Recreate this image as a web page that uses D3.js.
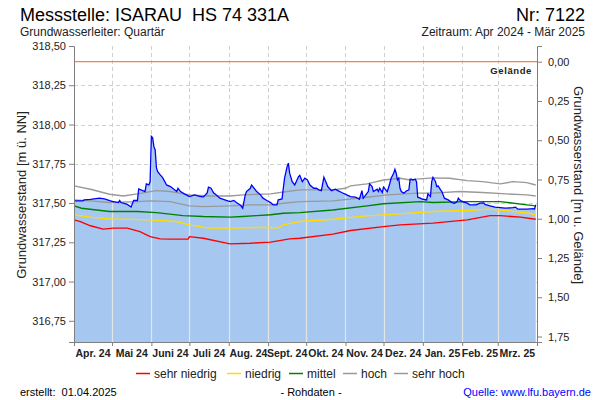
<!DOCTYPE html>
<html><head><meta charset="utf-8">
<script src="https://cdn.jsdelivr.net/npm/d3@7"></script>
<style>
html,body{margin:0;padding:0;background:#fff;}
svg{display:block;font-family:"Liberation Sans",Arial,sans-serif;}
</style></head>
<body><svg id="c" width="600" height="400"></svg>
<script>
// ---- data ----
const monthLabels = ["Apr. 24","Mai 24","Juni 24","Juli 24","Aug. 24","Sept. 24","Okt. 24","Nov. 24","Dez. 24","Jan. 25","Feb. 25","Mrz. 25"];
const leftTicks = [318.50,318.25,318.00,317.75,317.50,317.25,317.00,316.75];
const rightTicks = [0.00,0.25,0.50,0.75,1.00,1.25,1.50,1.75];
const gelaende = 318.40;
const measured = [
["2024-04-01",317.514],["2024-04-08",317.514],["2024-04-09",317.520],["2024-04-14",317.523],["2024-04-21",317.531],["2024-04-25",317.526],
["2024-05-01",317.511],["2024-05-06",317.503],["2024-05-07",317.516],["2024-05-08",317.503],["2024-05-13",317.491],["2024-05-16",317.474],
["2024-05-18",317.516],["2024-05-21",317.516],["2024-05-22",317.590],["2024-05-27",317.573],["2024-05-28",317.622],["2024-05-30",317.615],
["2024-05-31",317.635],["2024-06-01",317.924],["2024-06-02",317.915],["2024-06-03",317.859],["2024-06-04",317.838],["2024-06-05",317.724],
["2024-06-06",317.700],["2024-06-08",317.679],["2024-06-10",317.660],["2024-06-13",317.615],["2024-06-16",317.605],["2024-06-21",317.573],
["2024-06-22",317.594],["2024-06-24",317.573],["2024-06-27",317.558],["2024-07-01",317.541],["2024-07-05",317.552],["2024-07-09",317.542],
["2024-07-12",317.539],["2024-07-15",317.565],["2024-07-16",317.601],["2024-07-18",317.594],["2024-07-20",317.565],["2024-07-22",317.552],
["2024-07-25",317.531],["2024-07-30",317.517],["2024-08-02",317.509],["2024-08-05",317.517],["2024-08-07",317.503],["2024-08-10",317.488],
["2024-08-12",317.467],["2024-08-14",317.552],["2024-08-15",317.573],["2024-08-18",317.594],["2024-08-19",317.615],["2024-08-20",317.605],
["2024-08-23",317.573],["2024-08-26",317.552],["2024-08-28",317.531],["2024-08-31",317.516],["2024-09-03",317.503],["2024-09-05",317.488],
["2024-09-08",317.488],["2024-09-09",317.520],["2024-09-12",317.526],["2024-09-13",317.594],["2024-09-14",317.658],["2024-09-16",317.732],
["2024-09-17",317.754],["2024-09-18",317.690],["2024-09-20",317.636],["2024-09-22",317.615],["2024-09-25",317.668],["2024-09-26",317.676],
["2024-09-28",317.636],["2024-09-30",317.658],["2024-10-02",317.647],["2024-10-04",317.615],["2024-10-07",317.594],["2024-10-09",317.594],
["2024-10-11",317.584],["2024-10-13",317.579],["2024-10-15",317.664],["2024-10-17",317.626],["2024-10-18",317.605],["2024-10-21",317.579],
["2024-10-24",317.588],["2024-10-26",317.579],["2024-10-29",317.567],["2024-11-02",317.552],["2024-11-05",317.541],["2024-11-09",317.537],
["2024-11-12",317.524],["2024-11-14",317.579],["2024-11-15",317.531],["2024-11-16",317.541],["2024-11-19",317.573],["2024-11-20",317.622],
["2024-11-22",317.605],["2024-11-23",317.573],["2024-11-26",317.588],["2024-11-27",317.573],["2024-11-28",317.594],["2024-11-30",317.567],
["2024-12-01",317.601],["2024-12-04",317.573],["2024-12-06",317.626],["2024-12-07",317.658],["2024-12-09",317.690],["2024-12-10",317.715],
["2024-12-11",317.690],["2024-12-12",317.647],["2024-12-13",317.658],["2024-12-14",317.594],["2024-12-15",317.573],["2024-12-17",317.563],
["2024-12-19",317.577],["2024-12-21",317.584],["2024-12-22",317.652],["2024-12-23",317.652],["2024-12-24",317.647],["2024-12-26",317.652],
["2024-12-27",317.636],["2024-12-28",317.537],["2024-12-30",317.531],["2025-01-01",317.524],["2025-01-04",317.520],["2025-01-05",317.558],
["2025-01-07",317.541],["2025-01-08",317.636],["2025-01-09",317.664],["2025-01-11",317.636],["2025-01-12",317.605],["2025-01-13",317.609],
["2025-01-15",317.584],["2025-01-16",317.573],["2025-01-18",317.531],["2025-01-21",317.520],["2025-01-24",317.503],["2025-01-26",317.499],
["2025-01-28",317.509],["2025-01-29",317.531],["2025-01-30",317.520],["2025-02-01",317.509],["2025-02-05",317.499],["2025-02-07",317.488],
["2025-02-12",317.488],["2025-02-15",317.499],["2025-02-18",317.501],["2025-02-19",317.491],["2025-02-23",317.482],["2025-02-27",317.474],
["2025-03-07",317.467],["2025-03-13",317.471],["2025-03-15",317.474],["2025-03-17",317.461],["2025-03-24",317.461],["2025-03-29",317.464],
["2025-03-30",317.461],["2025-03-31",317.488]
];
const sehrHoch = [
["2024-04-01",317.609],["2024-04-14",317.588],["2024-04-29",317.556],["2024-05-10",317.545],["2024-05-21",317.558],["2024-06-05",317.579],
["2024-06-16",317.573],["2024-07-01",317.552],["2024-07-17",317.545],["2024-08-02",317.545],["2024-08-12",317.552],["2024-09-03",317.558],
["2024-09-16",317.573],["2024-09-26",317.584],["2024-10-22",317.584],["2024-11-01",317.594],["2024-11-05",317.609],["2024-11-18",317.622],
["2024-12-01",317.647],["2024-12-14",317.658],["2024-12-22",317.647],["2024-12-27",317.652],["2025-01-09",317.660],["2025-01-22",317.658],
["2025-02-05",317.643],["2025-02-17",317.636],["2025-03-03",317.622],["2025-03-13",317.636],["2025-03-24",317.630],["2025-03-31",317.615]
];
const hoch = [
["2024-04-01",317.520],["2024-04-14",317.514],["2024-04-29",317.503],["2024-05-21",317.509],["2024-05-31",317.514],["2024-06-16",317.509],
["2024-07-01",317.482],["2024-07-12",317.477],["2024-08-02",317.482],["2024-08-18",317.488],["2024-09-03",317.488],["2024-09-13",317.499],
["2024-09-26",317.509],["2024-10-22",317.514],["2024-11-18",317.537],["2024-12-04",317.552],["2024-12-27",317.563],["2025-01-09",317.563],
["2025-01-30",317.573],["2025-02-17",317.567],["2025-03-08",317.558],["2025-03-24",317.552],["2025-03-31",317.545]
];
const mittel = [
["2024-04-01",317.482],["2024-04-07",317.467],["2024-04-29",317.446],["2024-05-21",317.446],["2024-06-05",317.439],["2024-06-26",317.420],
["2024-07-12",317.414],["2024-08-02",317.410],["2024-08-12",317.414],["2024-08-23",317.420],["2024-09-03",317.425],["2024-09-13",317.435],
["2024-09-26",317.439],["2024-10-22",317.456],["2024-11-18",317.482],["2024-12-01",317.495],["2024-12-30",317.509],["2025-01-09",317.503],
["2025-02-05",317.509],["2025-03-03",317.509],["2025-03-24",317.488],["2025-03-31",317.482]
];
const niedrig = [
["2024-04-01",317.425],["2024-04-14",317.410],["2024-04-29",317.399],["2024-05-31",317.393],["2024-06-21",317.382],["2024-07-01",317.361],
["2024-07-17",317.340],["2024-08-02",317.340],["2024-08-23",317.344],["2024-09-03",317.344],["2024-09-08",317.340],["2024-09-13",317.361],
["2024-09-26",317.382],["2024-10-22",317.397],["2024-11-18",317.418],["2024-12-14",317.431],["2025-01-09",317.446],["2025-02-05",317.452],
["2025-02-21",317.461],["2025-03-08",317.452],["2025-03-26",317.435],["2025-03-31",317.425]
];
const sehrNiedrig = [
["2024-04-01",317.393],["2024-04-06",317.382],["2024-04-14",317.355],["2024-04-24",317.334],["2024-05-02",317.340],["2024-05-13",317.340],
["2024-05-23",317.318],["2024-05-31",317.286],["2024-06-08",317.272],["2024-06-16",317.270],["2024-06-30",317.270],["2024-07-01",317.286],
["2024-07-12",317.276],["2024-08-02",317.240],["2024-08-18",317.244],["2024-09-03",317.251],["2024-09-18",317.272],["2024-09-26",317.276],
["2024-10-22",317.302],["2024-11-05",317.325],["2024-12-01",317.350],["2024-12-14",317.361],["2025-01-09",317.372],["2025-02-05",317.393],
["2025-02-23",317.420],["2025-03-03",317.420],["2025-03-19",317.410],["2025-03-31",317.397]
];

// ---- drawing ----
const svg = d3.select("#c");
const parse = d3.timeParse("%Y-%m-%d");
const L = 74, R = 537, T = 46, B = 342;
const x = d3.scaleTime().domain([parse("2024-04-01"), parse("2025-04-01")]).range([L, R]);
const yBottom = 316.615, yTop = 318.50;
const y = d3.scaleLinear().domain([yBottom, yTop]).range([B, T]);
const yR = d3.scaleLinear().domain([gelaende - yBottom, gelaende - yTop]).range([B, T]);
const loc = d3.formatLocale({decimal: ",", thousands: ".", grouping: [3], currency: ["", "€"]});
const f2 = loc.format(".2f");
const months = d3.timeMonth.range(parse("2024-04-01"), parse("2025-04-02"));

// grid
const grid = svg.append("g");
grid.selectAll("line.h").data(leftTicks.slice(1)).join("line")
  .attr("x1", L).attr("x2", R).attr("y1", d => Math.round(y(d)) + 0.5).attr("y2", d => Math.round(y(d)) + 0.5)
  .attr("stroke", "#d0d0d0").attr("stroke-dasharray", "4,3");
grid.selectAll("line.v").data(months.slice(1, 12)).join("line")
  .attr("x1", d => Math.round(x(d)) + 0.5).attr("x2", d => Math.round(x(d)) + 0.5).attr("y1", T).attr("y2", B)
  .attr("stroke", "#d0d0d0").attr("stroke-dasharray", "4,3");

const pts = arr => arr.map(d => [parse(d[0]), d[1]]);
const mData = pts(measured);
const area = d3.area().x(d => x(d[0])).y0(B).y1(d => y(d[1]));
const line = d3.line().x(d => x(d[0])).y(d => y(d[1]));

svg.append("defs").append("clipPath").attr("id", "fillclip").append("path").attr("d", area(mData));
svg.append("path").attr("d", area(mData)).attr("fill", "#a6c8f0");
svg.append("g").attr("clip-path", "url(#fillclip)").selectAll("line").data(months.slice(1, 12)).join("line")
  .attr("x1", d => Math.round(x(d)) + 0.5).attr("x2", d => Math.round(x(d)) + 0.5).attr("y1", T).attr("y2", B)
  .attr("stroke", "#e4e4e4").attr("stroke-width", 1.2);

const series = [
  {name: "sehr niedrig", data: sehrNiedrig, color: "#ff0000"},
  {name: "niedrig", data: niedrig, color: "#ffdc00"},
  {name: "mittel", data: mittel, color: "#008000"},
  {name: "hoch", data: hoch, color: "#999999"},
  {name: "sehr hoch", data: sehrHoch, color: "#999999"}
];
series.forEach(s => {
  svg.append("path").attr("d", line(pts(s.data))).attr("fill", "none").attr("stroke", s.color).attr("stroke-width", 1.4);
});
svg.append("path").attr("d", line(mData)).attr("fill", "none").attr("stroke", "#0000ff").attr("stroke-width", 1.3);

// Gelände line
svg.append("line").attr("x1", L).attr("x2", R).attr("y1", y(gelaende)).attr("y2", y(gelaende))
  .attr("stroke", "#ff7f3f").attr("stroke-width", 1.2);
svg.append("text").attr("x", R - 5).attr("y", y(gelaende) + 12).attr("text-anchor", "end")
  .attr("font-size", 9.5).attr("font-weight", "bold").attr("letter-spacing", "0.6").attr("fill", "#222").text("Gelände");

// axes
const axL = svg.append("g").attr("transform", `translate(${L},0)`)
  .call(d3.axisLeft(y).tickValues(leftTicks).tickFormat(f2).tickSize(5).tickPadding(3));
const axR = svg.append("g").attr("transform", `translate(${R},0)`)
  .call(d3.axisRight(yR).tickValues(rightTicks).tickFormat(f2).tickSize(5).tickPadding(6));
const axB = svg.append("g").attr("transform", `translate(0,${B})`)
  .call(d3.axisBottom(x).tickValues(months).tickFormat("").tickSize(4));
[axL, axR, axB].forEach(a => {
  a.select(".domain").attr("stroke", "#808080");
  a.selectAll(".tick line").attr("stroke", "#808080");
  a.selectAll("text").attr("font-size", 11).attr("fill", "#222").attr("font-family", "Liberation Sans, Arial, sans-serif");
});
// month labels
const mids = months.slice(0, 12).map((d, i) => new Date((d.getTime() + months[i + 1].getTime()) / 2));
svg.append("g").selectAll("text").data(mids).join("text")
  .attr("x", d => x(d)).attr("y", B + 15).attr("text-anchor", "middle")
  .attr("font-size", 10.5).attr("font-weight", "bold").attr("fill", "#222")
  .text((d, i) => monthLabels[i]);

// axis titles
svg.append("text").attr("transform", "translate(26,195) rotate(-90)").attr("text-anchor", "middle")
  .attr("font-size", 13).attr("fill", "#222").text("Grundwasserstand [m ü. NN]");
svg.append("text").attr("transform", "translate(574,185) rotate(90)").attr("text-anchor", "middle")
  .attr("font-size", 13).attr("fill", "#222").text("Grundwasserstand [m u. Gelände]");

// header
svg.append("text").attr("x", 20).attr("y", 21).attr("font-size", 18).attr("fill", "#000").text("Messstelle: ISARAU  HS 74 331A").attr("xml:space", "preserve").style("white-space", "pre");
svg.append("text").attr("x", 585).attr("y", 21).attr("text-anchor", "end").attr("font-size", 18).attr("fill", "#000").text("Nr: 7122");
svg.append("text").attr("x", 20).attr("y", 36).attr("font-size", 12).attr("fill", "#222").text("Grundwasserleiter: Quartär");
svg.append("text").attr("x", 585).attr("y", 36).attr("text-anchor", "end").attr("font-size", 12).attr("fill", "#222").text("Zeitraum: Apr 2024 - Mär 2025");

// legend
const legX = [136, 227, 289, 343, 394];
const lg = svg.append("g");
series.forEach((s, i) => {
  lg.append("line").attr("x1", legX[i]).attr("x2", legX[i] + 14).attr("y1", 373.5).attr("y2", 373.5).attr("stroke", s.color).attr("stroke-width", 1.5);
  lg.append("text").attr("x", legX[i] + 18).attr("y", 378).attr("font-size", 12).attr("fill", "#222").text(s.name);
});

// footer
svg.append("text").attr("x", 20).attr("y", 396).attr("font-size", 11).attr("fill", "#000").text("erstellt:  01.04.2025").style("white-space", "pre");
svg.append("text").attr("x", 311).attr("y", 396).attr("text-anchor", "middle").attr("font-size", 11).attr("fill", "#000").text("- Rohdaten -");
svg.append("text").attr("x", 591).attr("y", 396).attr("text-anchor", "end").attr("font-size", 11).attr("fill", "#0000ff").text("Quelle: www.lfu.bayern.de");
</script></body></html>
